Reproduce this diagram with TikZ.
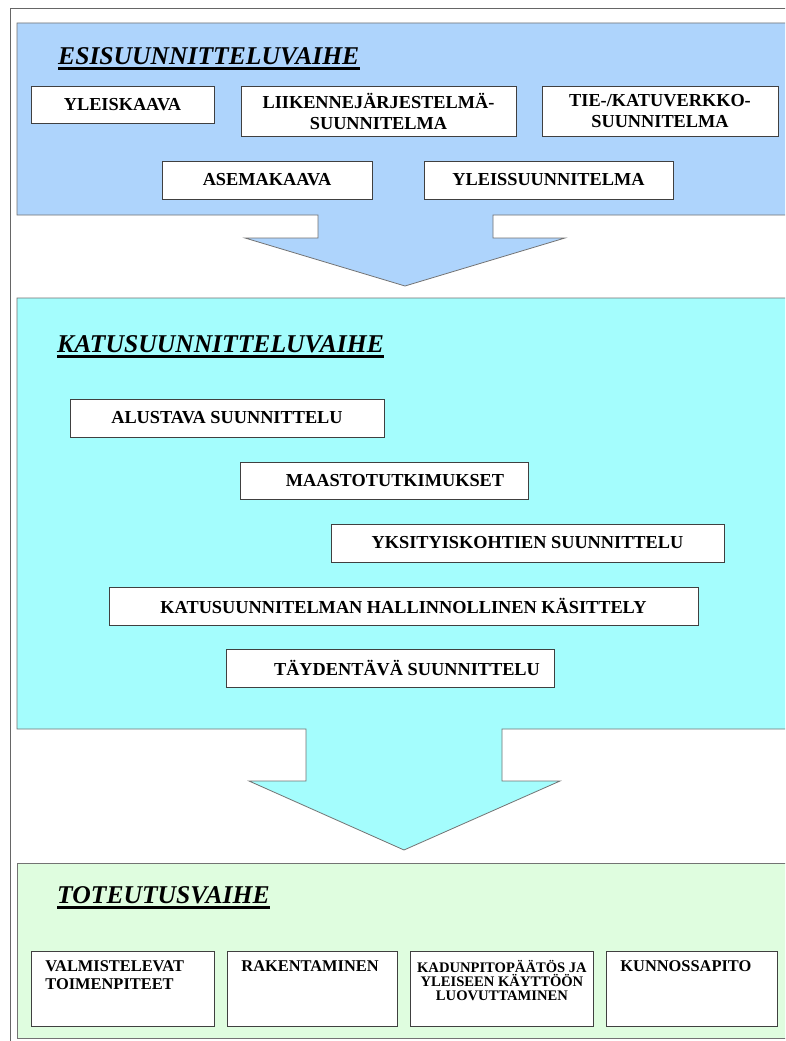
\documentclass[tikz,border=0pt]{standalone}
\usepackage{fontspec}
\setmainfont{Liberation Serif}
\usepackage{tikz}
\usetikzlibrary{positioning}
\definecolor{esiblue}{RGB}{174,212,252}
\definecolor{katucyan}{RGB}{164,253,253}
\definecolor{toteugreen}{RGB}{223,253,223}

\begin{document}
\begin{tikzpicture}[x=1pt, y=-1pt,
    stage/.style={draw=black!75, line width=0.9pt, fill=white, align=center,
      font=\bfseries\fontsize{18.3}{21}\selectfont, inner sep=2pt},
    phase/.style={draw=black!55, line width=0.8pt},
    phasetitle/.style={anchor=base west, inner sep=0pt,
      font=\bfseries\itshape\fontsize{25.6}{29}\selectfont},
    titleline/.style={line width=3.2pt, line cap=butt}]
  \clip (0,0) rectangle (785,1041);
  \fill[white] (0,0) rectangle (785,1041);
  \draw[black!60, line width=0.8pt] (10,8) rectangle (800,1060);

  \draw[phase, fill=esiblue] (17,23) -- (790,23) -- (790,215) -- (493,215)
    -- (493,238) -- (565,238) -- (405,286) -- (245,238) -- (318,238)
    -- (318,215) -- (17,215) -- cycle;
  \draw[phase, fill=katucyan] (17,298) -- (790,298) -- (790,729) -- (502,729)
    -- (502,781) -- (560,781) -- (404,850) -- (249,781) -- (306,781)
    -- (306,729) -- (17,729) -- cycle;
  \draw[phase, fill=toteugreen] (17,863) rectangle (790,1038);

  \node[phasetitle] (esititle) at (58,65) {ESISUUNNITTELUVAIHE};
  \draw[titleline] ([yshift=-3.5pt]esititle.base west) -- ([yshift=-3.5pt]esititle.base east);
  \node[stage, minimum width=183pt, minimum height=37pt] (yleiskaava) at (122.5,104.5) {YLEISKAAVA};
  \node[stage, minimum width=275pt, minimum height=50pt] (liikenne) at (378.5,111)
    {LIIKENNEJÄRJESTELMÄ-\\SUUNNITELMA};
  \node[stage, minimum width=236pt, minimum height=50pt] (katuverkko) at (660,111)
    {TIE-/KATUVERKKO-\\SUUNNITELMA};
  \node[stage, minimum width=210pt, minimum height=38pt] (asemakaava) at (267,180) {ASEMAKAAVA};
  \node[stage, minimum width=249pt, minimum height=38pt] (yleissuunn) at (548.5,180) {YLEISSUUNNITELMA};

  \node[phasetitle] (katutitle) at (57,352) {KATUSUUNNITTELUVAIHE};
  \draw[titleline] ([yshift=-4.5pt]katutitle.base west) -- ([yshift=-4.5pt]katutitle.base east);
  \node[stage, minimum width=314pt, minimum height=38pt] (alustava) at (227,418) {ALUSTAVA SUUNNITTELU};
  \node[stage, minimum width=288pt, minimum height=37pt] (maasto) at (384,480.5) {\hspace{22pt}MAASTOTUTKIMUKSET};
  \node[stage, minimum width=393pt, minimum height=38pt] (yksityis) at (527.5,543) {YKSITYISKOHTIEN SUUNNITTELU};
  \node[stage, minimum width=589pt, minimum height=38pt] (hallinto) at (403.5,606)
    {KATUSUUNNITELMAN HALLINNOLLINEN KÄSITTELY};
  \node[stage, minimum width=328pt, minimum height=38pt] (taydentava) at (390,668) {\hspace{34pt}TÄYDENTÄVÄ SUUNNITTELU};

  \node[phasetitle] (toteutitle) at (57,903) {TOTEUTUSVAIHE};
  \draw[titleline] ([yshift=-4.5pt]toteutitle.base west) -- ([yshift=-4.5pt]toteutitle.base east);
  \node[stage, anchor=north west, inner xsep=14pt, inner ysep=9pt, font=\bfseries\fontsize{16.4}{18}\selectfont]
    (valmistelu) at (31,951) {\parbox[t][57pt][t]{155pt}{\raggedright VALMISTELEVAT\\TOIMENPITEET}};
  \node[stage, anchor=north west, inner xsep=14pt, inner ysep=9pt, font=\bfseries\fontsize{16.4}{18}\selectfont]
    (rakentaminen) at (227,951) {\parbox[t][57pt][t]{142pt}{\raggedright RAKENTAMINEN}};
  \node[stage, anchor=north west, inner xsep=4pt, inner ysep=9pt, font=\bfseries\fontsize{14.6}{14}\selectfont]
    (kadunpito) at (410,951) {\parbox[t][57pt][t]{175pt}{\centering KADUNPITOPÄÄTÖS JA\\YLEISEEN KÄYTTÖÖN\\LUOVUTTAMINEN}};
  \node[stage, anchor=north west, inner xsep=14pt, inner ysep=9pt, font=\bfseries\fontsize{16.4}{18}\selectfont]
    (kunnossapito) at (606,951) {\parbox[t][57pt][t]{143pt}{\raggedright KUNNOSSAPITO}};
\end{tikzpicture}
\end{document}
